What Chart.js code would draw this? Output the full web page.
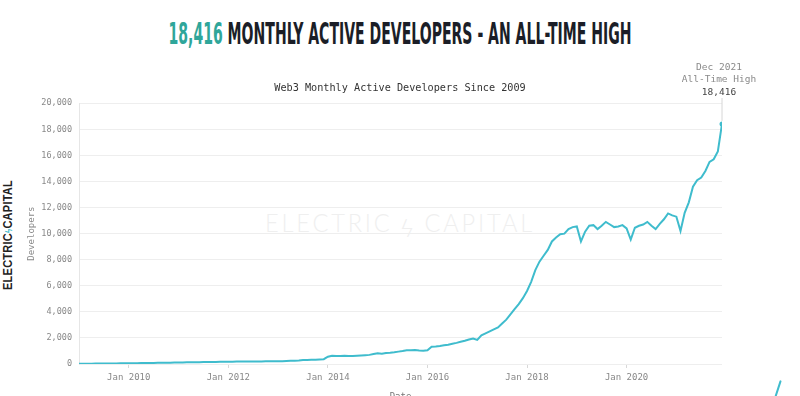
<!DOCTYPE html>
<html>
<head>
<meta charset="utf-8">
<script src="https://cdn.jsdelivr.net/npm/chart.js@4.4.1/dist/chart.umd.min.js"></script>
<style>
  html, body { margin: 0; padding: 0; background: #fff; }
  body { width: 800px; height: 396px; overflow: hidden; position: relative; }
  #heading {
    position: absolute; top: 17px; left: 400px; white-space: nowrap;
    font-family: "Liberation Sans Narrow", "DejaVu Sans Condensed", "Liberation Sans", sans-serif;
    font-weight: bold; font-size: 30px; line-height: 34px; color: #1b1e27;
  }
  #heading .num { color: #2fa69a; }
  #watermark {
    position: absolute; left: 400px; top: 222px; transform: translate(-50%, -50%);
    font-family: Lato, "Open Sans", sans-serif; font-weight: 300; font-size: 25px;
    letter-spacing: 3px; color: #efefef; white-space: nowrap;
  }
  #sidelogo {
    position: absolute; left: 8px; top: 235px;
    font-family: "Liberation Sans", Arial, sans-serif; font-weight: bold; font-size: 12.5px;
    color: #222; white-space: nowrap; letter-spacing: 0.3px;
  }
  #sidelogo .bolt { color: #3fbccd; font-size: 9px; }
  #corner {
    position: absolute; left: 777px; top: 380px; width: 2px; height: 18px;
    background: #3fbccd; transform: rotate(18deg); border-radius: 1px;
  }
  #wrap { position: absolute; left: 0; top: 0; width: 800px; height: 412px; }
</style>
</head>
<body>
<div id="heading"><span class="num">18,416</span> MONTHLY ACTIVE DEVELOPERS - AN ALL-TIME HIGH</div>
<div id="watermark">ELECTRIC&#8239;ϟ&#8239;CAPITAL</div>
<div id="sidelogo">ELECTRIC<span class="bolt">ϟ</span>CAPITAL</div>
<div id="corner"></div>
<div id="wrap"><canvas id="myChart" width="800" height="412"></canvas></div>
<script>
const startYear = 2009
// monthly active developers, one row per year (Jan..Dec)
const monthlyDevelopers = [
  20, 22, 25, 28, 30, 33, 36, 40, 43, 46, 50, 55,
  58, 62, 66, 70, 75, 80, 85, 90, 95, 100, 105, 110,
  115, 120, 125, 130, 135, 140, 145, 150, 155, 160, 165, 172,
  176, 180, 183, 186, 189, 192, 195, 198, 200, 202, 204, 206,
  208, 215, 225, 240, 255, 270, 300, 310, 320, 335, 350, 370,
  560, 640, 620, 615, 630, 620, 615, 640, 660, 680, 700, 760,
  820, 780, 850, 870, 900, 950, 1000, 1060, 1050, 1070, 1040, 1020,
  1050, 1320, 1340, 1380, 1430, 1480, 1560, 1620, 1700, 1780, 1880, 1960,
  1850, 2200, 2350, 2500, 2650, 2800, 3100, 3400, 3800, 4200, 4600, 5050,
  5600, 6300, 7200, 7850, 8300, 8750, 9400, 9700, 9950, 10000, 10350, 10500,
  10550, 9400, 10150, 10600, 10650, 10350, 10600, 10900, 10700, 10500, 10550, 10650,
  10400, 9550, 10450, 10600, 10700, 10900, 10600, 10350, 10750, 11100, 11550, 11400,
  11300, 10200, 11600, 12400, 13600, 14100, 14300, 14800, 15500, 15700, 16300, 18416,
]
const tickYears = [2010, 2012, 2014, 2016, 2018, 2020]
const yTicks = [0, 2000, 4000, 6000, 8000, 10000, 12000, 14000, 16000, 18000, 20000]
const chartTitle = 'Web3 Monthly Active Developers Since 2009'
const athLines = ['Dec 2021', 'All-Time High', '18,416']

const LINE = '#3fbccd'
const MONO = '"DejaVu Sans Mono", "Liberation Mono", monospace'

// squeeze the html texts to the widths seen in the picture
function squeeze(el, target, shift, extra) {
  const w = el.getBoundingClientRect().width
  el.style.transform = `${shift} ${extra || ''} scaleX(${target / w})`
  el.style.transformOrigin = 'center center'
}
squeeze(document.getElementById('heading'), 463, 'translateX(-50%)')
squeeze(document.getElementById('sidelogo'), 110, 'translate(-50%, -50%)', 'rotate(-90deg)')
squeeze(document.getElementById('watermark'), 270, 'translate(-50%, -50%)')

const points = monthlyDevelopers.map((v, i) => ({ x: startYear + i / 12, y: v }))
const lastIndex = points.length - 1

const athPlugin = {
  id: 'athNote',
  afterDatasetsDraw(chart) {
    const { ctx, scales } = chart
    const p = points[lastIndex]
    const px = scales.x.getPixelForValue(p.x)
    const py = scales.y.getPixelForValue(p.y)
    ctx.save()
    ctx.strokeStyle = '#d6d6d6'
    ctx.lineWidth = 1
    ctx.beginPath()
    ctx.moveTo(px, 98)
    ctx.lineTo(px, py - 3)
    ctx.stroke()
    ctx.textAlign = 'center'
    ctx.textBaseline = 'middle'
    ctx.font = `9.5px ${MONO}`
    ctx.fillStyle = '#8a8a8a'
    ctx.fillText(athLines[0], px - 3, 68)
    ctx.fillText(athLines[1], px - 3, 80)
    ctx.fillStyle = '#444'
    ctx.fillText(athLines[2], px - 3, 93)
    ctx.restore()
  },
}

const ctx = document.getElementById('myChart').getContext('2d')
const myChart = new Chart(ctx, {
  type: 'line',
  data: {
    datasets: [
      {
        data: points,
        borderColor: LINE,
        backgroundColor: LINE,
        borderWidth: 2,
        tension: 0,
        fill: false,
        pointRadius: (c) => (c.dataIndex === lastIndex ? 2.5 : 0),
        pointBorderWidth: 0,
      },
    ],
  },
  options: {
    responsive: false,
    animation: false,
    layout: { padding: 0 },
    plugins: {
      legend: { display: false },
      tooltip: { enabled: false },
      title: {
        display: true,
        text: chartTitle,
        color: '#333',
        font: { family: MONO, size: 10.2, weight: 'normal' },
        padding: { top: 82, bottom: 9 },
      },
    },
    scales: {
      x: {
        type: 'linear',
        min: startYear,
        max: points[lastIndex].x,
        afterBuildTicks: (s) => {
          s.ticks = tickYears.map((v) => ({ value: v }))
        },
        afterFit: (s) => {
          s.height = 48
        },
        ticks: {
          autoSkip: false,
          maxRotation: 0,
          padding: 4,
          color: '#888',
          font: { family: MONO, size: 9 },
          callback: (v) => 'Jan ' + v,
        },
        grid: { drawOnChartArea: false, tickLength: 4, color: '#d8d8d8' },
        border: { display: false },
        title: {
          display: true,
          text: 'Date',
          color: '#777',
          font: { family: MONO, size: 9 },
          padding: { bottom: 10 },
        },
      },
      y: {
        min: 0,
        max: 20000,
        afterBuildTicks: (s) => {
          s.ticks = yTicks.map((v) => ({ value: v }))
        },
        afterFit: (s) => {
          s.width = 79
        },
        ticks: {
          padding: 7,
          color: '#888',
          font: { family: MONO, size: 8.5 },
          callback: (v) => v.toLocaleString('en-US'),
        },
        grid: { color: '#eeeeee', drawTicks: false },
        border: { display: true, color: '#e6e6e6' },
        title: {
          display: true,
          text: 'Developers',
          color: '#888',
          font: { family: MONO, size: 9 },
          padding: { top: 26 },
        },
      },
      spacer: {
        position: 'right',
        display: true,
        afterFit: (s) => {
          s.width = 78
        },
        ticks: { display: false },
        grid: { display: false },
        border: { display: false },
      },
    },
  },
  plugins: [athPlugin],
})
</script>
</body>
</html>
